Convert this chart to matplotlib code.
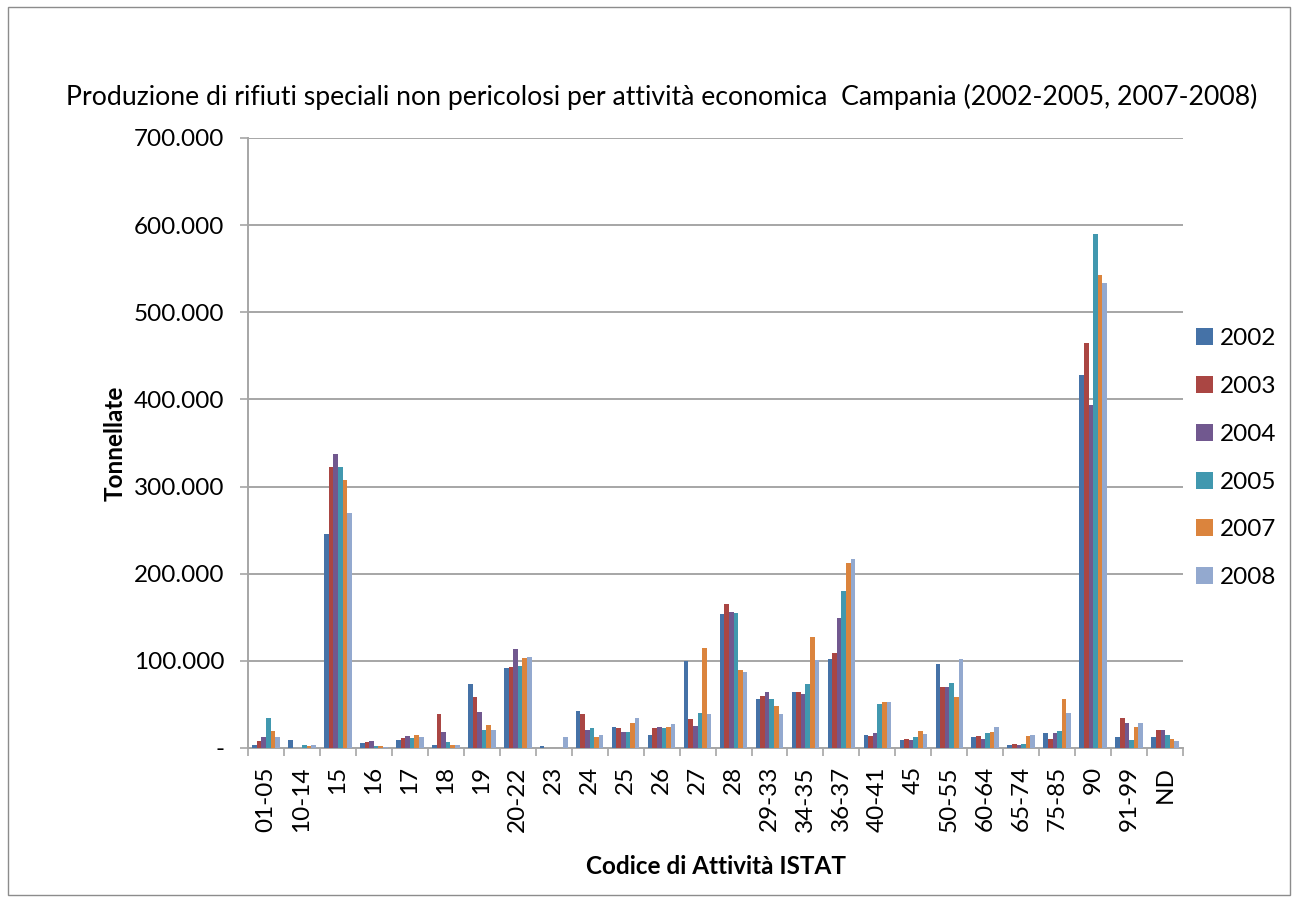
import numpy as np
import matplotlib
matplotlib.use("Agg")
import matplotlib.pyplot as plt
from matplotlib.ticker import FuncFormatter, FixedLocator
from matplotlib.patches import Rectangle

plt.rcParams['font.family'] = ['Lato', 'DejaVu Sans']

# categorie ISTAT
categories = ['01-05', '10-14', '15', '16', '17', '18', '19', '20-22', '23', '24',
              '25', '26', '27', '28', '29-33', '34-35', '36-37', '40-41', '45',
              '50-55', '60-64', '65-74', '75-85', '90', '91-99', 'ND']
years = ['2002', '2003', '2004', '2005', '2007', '2008']

# tonnellate
v2002 = [3900, 9000, 245000, 5400, 9700, 3900, 73700, 91500, 2000, 42000,
         24400, 15300, 99500, 153400, 56500, 63700, 101900, 15300, 9200,
         96200, 12300, 3400, 16900, 427500, 12300, 12300]
v2003 = [8100, 0, 323000, 7000, 11200, 39400, 59000, 92700, 0, 39000,
         22900, 22900, 33200, 165300, 59500, 63700, 109500, 13700, 10700,
         69700, 13800, 5000, 10700, 465300, 34500, 21100]
v2004 = [12400, 0, 337000, 8100, 13900, 18500, 40900, 113500, 0, 21000,
         17900, 24400, 25600, 156500, 63700, 62200, 148900, 16800, 9200,
         69700, 10700, 3400, 16900, 393500, 28400, 21100]
v2005 = [34700, 3500, 323000, 2300, 11200, 6600, 21200, 94200, 0, 23000,
         17900, 22900, 40500, 155000, 56500, 74000, 179800, 50800, 12300,
         74300, 16900, 5000, 19500, 590100, 9200, 15300]
v2007 = [19700, 2000, 308000, 2300, 15400, 3900, 26300, 103000, 0, 12200,
         28600, 24400, 115300, 89000, 47700, 127000, 212200, 52300, 19500,
         58200, 18000, 13800, 56700, 543100, 24100, 10700]
v2008 = [12400, 3500, 270000, 1000, 12700, 3900, 21200, 104600, 12400, 15300,
         34700, 27500, 38900, 87400, 38900, 100800, 216400, 52300, 16500,
         101900, 24100, 15300, 40200, 533200, 28400, 7700]
series = [v2002, v2003, v2004, v2005, v2007, v2008]
colors = ['#4572A7', '#AA4643', '#71588F', '#4198AF', '#DB843D', '#93A9CF']

fig = plt.figure(figsize=(12.93, 9.06), dpi=100)
ax = fig.add_axes([0.1918, 0.1744, 0.915 - 0.1918, 0.8477 - 0.1744])

x = np.arange(len(categories))
bw = 0.128
for k, (vals, col, yr) in enumerate(zip(series, colors, years)):
    ax.bar(x + (k - 2.5) * bw, vals, width=bw, color=col, label=yr, zorder=3)

ax.set_xlim(-0.5, len(categories) - 0.5)
ax.set_ylim(0, 700000)
ax.set_yticks(np.arange(0, 700001, 100000))
ax.yaxis.set_major_formatter(FuncFormatter(
    lambda v, p: '-' if v == 0 else f'{int(v):,}'.replace(',', '.')))
ax.grid(axis='y', color='#A6A6A6', linewidth=1.4, zorder=0)

# tick tra le categorie, etichette al centro
ax.xaxis.set_major_locator(FixedLocator(np.arange(-0.5, len(categories), 1.0)))
ax.xaxis.set_major_formatter(FuncFormatter(lambda v, p: ''))
ax.xaxis.set_minor_locator(FixedLocator(x))
ax.set_xticklabels(categories, minor=True, rotation=90, fontsize=17.5)
ax.tick_params(axis='x', which='major', length=6, width=1.2, color='#A6A6A6', direction='out')
ax.tick_params(axis='x', which='minor', length=0, pad=13)
ax.tick_params(axis='y', length=6, width=1.2, color='#A6A6A6', labelsize=17.5, pad=11)

for s in ['top', 'right']:
    ax.spines[s].set_visible(False)
for s in ['left', 'bottom']:
    ax.spines[s].set_color('#A6A6A6')
    ax.spines[s].set_linewidth(1.4)

ax.set_ylabel('Tonnellate', fontsize=17.5, fontweight='bold', labelpad=5)
ax.set_xlabel('Codice di Attività ISTAT', fontsize=17.5, fontweight='bold', labelpad=17)
fig.text(0.512, 0.893,
         'Produzione di rifiuti speciali non pericolosi per attività economica  Campania (2002-2005, 2007-2008)',
         ha='center', va='center', fontsize=19.2)

leg = ax.legend(loc='center left', bbox_to_anchor=(0.99, 0.475), frameon=False,
                fontsize=17.5, handlelength=0.7, handleheight=0.7,
                handletextpad=0.3, labelspacing=1.1)

fig.patches.append(Rectangle((0.006, 0.012), 0.992, 0.98, transform=fig.transFigure,
                             fill=False, edgecolor='#8C8C8C', linewidth=1.0))

fig.savefig('out.png', dpi=100)
